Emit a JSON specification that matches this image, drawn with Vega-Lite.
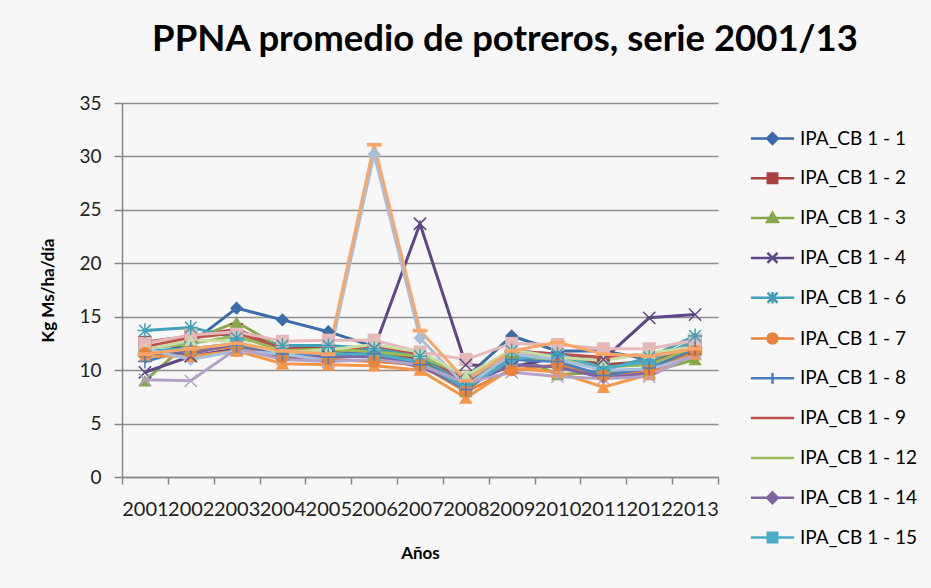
{
  "$schema": "https://vega.github.io/schema/vega-lite/v6.json",
  "width": 596,
  "height": 374,
  "autosize": "none",
  "padding": {"left": 122, "top": 103, "right": 213, "bottom": 111},
  "background": "#f7f7f7",
  "config": {"view": {"stroke": null}, "font": "Lato"},
  "title": {"text": "PPNA promedio de potreros, serie 2001/13", "font": "Lato", "fontSize": 36.5, "fontWeight": "bold", "color": "#000000", "anchor": "middle", "dx": 85, "offset": 7, "baseline": "alphabetic"},
  "data": {"values": [
    {"serie":"IPA_CB 1 - 1","anio":"2001","kg":11.3},{"serie":"IPA_CB 1 - 1","anio":"2002","kg":12.5},{"serie":"IPA_CB 1 - 1","anio":"2003","kg":15.8},{"serie":"IPA_CB 1 - 1","anio":"2004","kg":14.7},{"serie":"IPA_CB 1 - 1","anio":"2005","kg":13.6},{"serie":"IPA_CB 1 - 1","anio":"2006","kg":12.2},{"serie":"IPA_CB 1 - 1","anio":"2007","kg":11.2},{"serie":"IPA_CB 1 - 1","anio":"2008","kg":9.3},{"serie":"IPA_CB 1 - 1","anio":"2009","kg":13.2},{"serie":"IPA_CB 1 - 1","anio":"2010","kg":11.8},{"serie":"IPA_CB 1 - 1","anio":"2011","kg":11.8},{"serie":"IPA_CB 1 - 1","anio":"2012","kg":11.0},{"serie":"IPA_CB 1 - 1","anio":"2013","kg":12.6},
    {"serie":"IPA_CB 1 - 2","anio":"2001","kg":12.6},{"serie":"IPA_CB 1 - 2","anio":"2002","kg":13.2},{"serie":"IPA_CB 1 - 2","anio":"2003","kg":13.8},{"serie":"IPA_CB 1 - 2","anio":"2004","kg":12.2},{"serie":"IPA_CB 1 - 2","anio":"2005","kg":12.0},{"serie":"IPA_CB 1 - 2","anio":"2006","kg":11.8},{"serie":"IPA_CB 1 - 2","anio":"2007","kg":11.0},{"serie":"IPA_CB 1 - 2","anio":"2008","kg":8.8},{"serie":"IPA_CB 1 - 2","anio":"2009","kg":11.2},{"serie":"IPA_CB 1 - 2","anio":"2010","kg":11.5},{"serie":"IPA_CB 1 - 2","anio":"2011","kg":10.5},{"serie":"IPA_CB 1 - 2","anio":"2012","kg":10.8},{"serie":"IPA_CB 1 - 2","anio":"2013","kg":12.0},
    {"serie":"IPA_CB 1 - 3","anio":"2001","kg":9.0},{"serie":"IPA_CB 1 - 3","anio":"2002","kg":12.8},{"serie":"IPA_CB 1 - 3","anio":"2003","kg":14.5},{"serie":"IPA_CB 1 - 3","anio":"2004","kg":12.0},{"serie":"IPA_CB 1 - 3","anio":"2005","kg":11.8},{"serie":"IPA_CB 1 - 3","anio":"2006","kg":11.5},{"serie":"IPA_CB 1 - 3","anio":"2007","kg":10.8},{"serie":"IPA_CB 1 - 3","anio":"2008","kg":8.0},{"serie":"IPA_CB 1 - 3","anio":"2009","kg":11.5},{"serie":"IPA_CB 1 - 3","anio":"2010","kg":9.6},{"serie":"IPA_CB 1 - 3","anio":"2011","kg":9.8},{"serie":"IPA_CB 1 - 3","anio":"2012","kg":9.8},{"serie":"IPA_CB 1 - 3","anio":"2013","kg":11.0},
    {"serie":"IPA_CB 1 - 4","anio":"2001","kg":9.8},{"serie":"IPA_CB 1 - 4","anio":"2002","kg":11.3},{"serie":"IPA_CB 1 - 4","anio":"2003","kg":12.0},{"serie":"IPA_CB 1 - 4","anio":"2004","kg":11.5},{"serie":"IPA_CB 1 - 4","anio":"2005","kg":11.3},{"serie":"IPA_CB 1 - 4","anio":"2006","kg":12.0},{"serie":"IPA_CB 1 - 4","anio":"2007","kg":23.7},{"serie":"IPA_CB 1 - 4","anio":"2008","kg":10.5},{"serie":"IPA_CB 1 - 4","anio":"2009","kg":10.3},{"serie":"IPA_CB 1 - 4","anio":"2010","kg":11.2},{"serie":"IPA_CB 1 - 4","anio":"2011","kg":11.0},{"serie":"IPA_CB 1 - 4","anio":"2012","kg":14.9},{"serie":"IPA_CB 1 - 4","anio":"2013","kg":15.2},
    {"serie":"IPA_CB 1 - 6","anio":"2001","kg":13.7},{"serie":"IPA_CB 1 - 6","anio":"2002","kg":14.0},{"serie":"IPA_CB 1 - 6","anio":"2003","kg":13.0},{"serie":"IPA_CB 1 - 6","anio":"2004","kg":12.3},{"serie":"IPA_CB 1 - 6","anio":"2005","kg":12.3},{"serie":"IPA_CB 1 - 6","anio":"2006","kg":12.0},{"serie":"IPA_CB 1 - 6","anio":"2007","kg":11.3},{"serie":"IPA_CB 1 - 6","anio":"2008","kg":8.5},{"serie":"IPA_CB 1 - 6","anio":"2009","kg":11.8},{"serie":"IPA_CB 1 - 6","anio":"2010","kg":11.5},{"serie":"IPA_CB 1 - 6","anio":"2011","kg":10.0},{"serie":"IPA_CB 1 - 6","anio":"2012","kg":11.2},{"serie":"IPA_CB 1 - 6","anio":"2013","kg":13.2},
    {"serie":"IPA_CB 1 - 7","anio":"2001","kg":11.6},{"serie":"IPA_CB 1 - 7","anio":"2002","kg":11.8},{"serie":"IPA_CB 1 - 7","anio":"2003","kg":12.2},{"serie":"IPA_CB 1 - 7","anio":"2004","kg":11.2},{"serie":"IPA_CB 1 - 7","anio":"2005","kg":11.0},{"serie":"IPA_CB 1 - 7","anio":"2006","kg":10.8},{"serie":"IPA_CB 1 - 7","anio":"2007","kg":10.5},{"serie":"IPA_CB 1 - 7","anio":"2008","kg":8.0},{"serie":"IPA_CB 1 - 7","anio":"2009","kg":10.0},{"serie":"IPA_CB 1 - 7","anio":"2010","kg":10.5},{"serie":"IPA_CB 1 - 7","anio":"2011","kg":9.5},{"serie":"IPA_CB 1 - 7","anio":"2012","kg":10.0},{"serie":"IPA_CB 1 - 7","anio":"2013","kg":11.8},
    {"serie":"IPA_CB 1 - 8","anio":"2001","kg":10.8},{"serie":"IPA_CB 1 - 8","anio":"2002","kg":12.0},{"serie":"IPA_CB 1 - 8","anio":"2003","kg":12.3},{"serie":"IPA_CB 1 - 8","anio":"2004","kg":11.5},{"serie":"IPA_CB 1 - 8","anio":"2005","kg":11.2},{"serie":"IPA_CB 1 - 8","anio":"2006","kg":11.5},{"serie":"IPA_CB 1 - 8","anio":"2007","kg":10.5},{"serie":"IPA_CB 1 - 8","anio":"2008","kg":8.2},{"serie":"IPA_CB 1 - 8","anio":"2009","kg":11.0},{"serie":"IPA_CB 1 - 8","anio":"2010","kg":10.8},{"serie":"IPA_CB 1 - 8","anio":"2011","kg":9.5},{"serie":"IPA_CB 1 - 8","anio":"2012","kg":10.2},{"serie":"IPA_CB 1 - 8","anio":"2013","kg":12.0},
    {"serie":"IPA_CB 1 - 9","anio":"2001","kg":12.2},{"serie":"IPA_CB 1 - 9","anio":"2002","kg":13.0},{"serie":"IPA_CB 1 - 9","anio":"2003","kg":13.5},{"serie":"IPA_CB 1 - 9","anio":"2004","kg":12.0},{"serie":"IPA_CB 1 - 9","anio":"2005","kg":11.8},{"serie":"IPA_CB 1 - 9","anio":"2006","kg":12.3},{"serie":"IPA_CB 1 - 9","anio":"2007","kg":11.5},{"serie":"IPA_CB 1 - 9","anio":"2008","kg":9.0},{"serie":"IPA_CB 1 - 9","anio":"2009","kg":11.8},{"serie":"IPA_CB 1 - 9","anio":"2010","kg":11.5},{"serie":"IPA_CB 1 - 9","anio":"2011","kg":11.2},{"serie":"IPA_CB 1 - 9","anio":"2012","kg":11.5},{"serie":"IPA_CB 1 - 9","anio":"2013","kg":12.3},
    {"serie":"IPA_CB 1 - 12","anio":"2001","kg":12.0},{"serie":"IPA_CB 1 - 12","anio":"2002","kg":12.5},{"serie":"IPA_CB 1 - 12","anio":"2003","kg":13.2},{"serie":"IPA_CB 1 - 12","anio":"2004","kg":11.8},{"serie":"IPA_CB 1 - 12","anio":"2005","kg":12.0},{"serie":"IPA_CB 1 - 12","anio":"2006","kg":11.7},{"serie":"IPA_CB 1 - 12","anio":"2007","kg":11.3},{"serie":"IPA_CB 1 - 12","anio":"2008","kg":9.5},{"serie":"IPA_CB 1 - 12","anio":"2009","kg":11.3},{"serie":"IPA_CB 1 - 12","anio":"2010","kg":11.0},{"serie":"IPA_CB 1 - 12","anio":"2011","kg":10.3},{"serie":"IPA_CB 1 - 12","anio":"2012","kg":10.5},{"serie":"IPA_CB 1 - 12","anio":"2013","kg":12.2},
    {"serie":"IPA_CB 1 - 14","anio":"2001","kg":11.5},{"serie":"IPA_CB 1 - 14","anio":"2002","kg":11.5},{"serie":"IPA_CB 1 - 14","anio":"2003","kg":12.5},{"serie":"IPA_CB 1 - 14","anio":"2004","kg":11.2},{"serie":"IPA_CB 1 - 14","anio":"2005","kg":11.2},{"serie":"IPA_CB 1 - 14","anio":"2006","kg":11.3},{"serie":"IPA_CB 1 - 14","anio":"2007","kg":10.3},{"serie":"IPA_CB 1 - 14","anio":"2008","kg":8.5},{"serie":"IPA_CB 1 - 14","anio":"2009","kg":10.5},{"serie":"IPA_CB 1 - 14","anio":"2010","kg":10.3},{"serie":"IPA_CB 1 - 14","anio":"2011","kg":9.3},{"serie":"IPA_CB 1 - 14","anio":"2012","kg":9.7},{"serie":"IPA_CB 1 - 14","anio":"2013","kg":11.5},
    {"serie":"IPA_CB 1 - 15","anio":"2001","kg":11.8},{"serie":"IPA_CB 1 - 15","anio":"2002","kg":12.0},{"serie":"IPA_CB 1 - 15","anio":"2003","kg":12.5},{"serie":"IPA_CB 1 - 15","anio":"2004","kg":11.7},{"serie":"IPA_CB 1 - 15","anio":"2005","kg":11.5},{"serie":"IPA_CB 1 - 15","anio":"2006","kg":11.5},{"serie":"IPA_CB 1 - 15","anio":"2007","kg":10.8},{"serie":"IPA_CB 1 - 15","anio":"2008","kg":8.3},{"serie":"IPA_CB 1 - 15","anio":"2009","kg":11.0},{"serie":"IPA_CB 1 - 15","anio":"2010","kg":11.5},{"serie":"IPA_CB 1 - 15","anio":"2011","kg":10.2},{"serie":"IPA_CB 1 - 15","anio":"2012","kg":10.8},{"serie":"IPA_CB 1 - 15","anio":"2013","kg":12.8},
    {"serie":"IPA_CB 1 - 16","anio":"2001","kg":11.3},{"serie":"IPA_CB 1 - 16","anio":"2002","kg":11.3},{"serie":"IPA_CB 1 - 16","anio":"2003","kg":11.8},{"serie":"IPA_CB 1 - 16","anio":"2004","kg":10.6},{"serie":"IPA_CB 1 - 16","anio":"2005","kg":10.5},{"serie":"IPA_CB 1 - 16","anio":"2006","kg":10.4},{"serie":"IPA_CB 1 - 16","anio":"2007","kg":10.0},{"serie":"IPA_CB 1 - 16","anio":"2008","kg":7.4},{"serie":"IPA_CB 1 - 16","anio":"2009","kg":10.2},{"serie":"IPA_CB 1 - 16","anio":"2010","kg":9.8},{"serie":"IPA_CB 1 - 16","anio":"2011","kg":8.4},{"serie":"IPA_CB 1 - 16","anio":"2012","kg":9.6},{"serie":"IPA_CB 1 - 16","anio":"2013","kg":11.5},
    {"serie":"IPA_CB 1 - 17","anio":"2001","kg":12.0},{"serie":"IPA_CB 1 - 17","anio":"2002","kg":11.0},{"serie":"IPA_CB 1 - 17","anio":"2003","kg":11.8},{"serie":"IPA_CB 1 - 17","anio":"2004","kg":11.5},{"serie":"IPA_CB 1 - 17","anio":"2005","kg":10.9},{"serie":"IPA_CB 1 - 17","anio":"2006","kg":30.2},{"serie":"IPA_CB 1 - 17","anio":"2007","kg":13.0},{"serie":"IPA_CB 1 - 17","anio":"2008","kg":8.5},{"serie":"IPA_CB 1 - 17","anio":"2009","kg":11.5},{"serie":"IPA_CB 1 - 17","anio":"2010","kg":11.0},{"serie":"IPA_CB 1 - 17","anio":"2011","kg":10.0},{"serie":"IPA_CB 1 - 17","anio":"2012","kg":10.1},{"serie":"IPA_CB 1 - 17","anio":"2013","kg":11.3},
    {"serie":"IPA_CB 1 - 18","anio":"2001","kg":12.5},{"serie":"IPA_CB 1 - 18","anio":"2002","kg":13.3},{"serie":"IPA_CB 1 - 18","anio":"2003","kg":13.6},{"serie":"IPA_CB 1 - 18","anio":"2004","kg":12.7},{"serie":"IPA_CB 1 - 18","anio":"2005","kg":12.8},{"serie":"IPA_CB 1 - 18","anio":"2006","kg":12.8},{"serie":"IPA_CB 1 - 18","anio":"2007","kg":11.7},{"serie":"IPA_CB 1 - 18","anio":"2008","kg":11.0},{"serie":"IPA_CB 1 - 18","anio":"2009","kg":12.5},{"serie":"IPA_CB 1 - 18","anio":"2010","kg":12.4},{"serie":"IPA_CB 1 - 18","anio":"2011","kg":12.0},{"serie":"IPA_CB 1 - 18","anio":"2012","kg":12.0},{"serie":"IPA_CB 1 - 18","anio":"2013","kg":12.8},
    {"serie":"IPA_CB 1 - 19","anio":"2001","kg":11.9},{"serie":"IPA_CB 1 - 19","anio":"2002","kg":12.8},{"serie":"IPA_CB 1 - 19","anio":"2003","kg":12.7},{"serie":"IPA_CB 1 - 19","anio":"2004","kg":11.6},{"serie":"IPA_CB 1 - 19","anio":"2005","kg":11.9},{"serie":"IPA_CB 1 - 19","anio":"2006","kg":12.4},{"serie":"IPA_CB 1 - 19","anio":"2007","kg":11.7},{"serie":"IPA_CB 1 - 19","anio":"2008","kg":9.5},{"serie":"IPA_CB 1 - 19","anio":"2009","kg":11.9},{"serie":"IPA_CB 1 - 19","anio":"2010","kg":11.2},{"serie":"IPA_CB 1 - 19","anio":"2011","kg":10.9},{"serie":"IPA_CB 1 - 19","anio":"2012","kg":11.6},{"serie":"IPA_CB 1 - 19","anio":"2013","kg":12.2},
    {"serie":"IPA_CB 1 - 20","anio":"2001","kg":9.1},{"serie":"IPA_CB 1 - 20","anio":"2002","kg":9.0},{"serie":"IPA_CB 1 - 20","anio":"2003","kg":12.0},{"serie":"IPA_CB 1 - 20","anio":"2004","kg":11.0},{"serie":"IPA_CB 1 - 20","anio":"2005","kg":10.8},{"serie":"IPA_CB 1 - 20","anio":"2006","kg":11.0},{"serie":"IPA_CB 1 - 20","anio":"2007","kg":10.5},{"serie":"IPA_CB 1 - 20","anio":"2008","kg":8.8},{"serie":"IPA_CB 1 - 20","anio":"2009","kg":9.8},{"serie":"IPA_CB 1 - 20","anio":"2010","kg":9.4},{"serie":"IPA_CB 1 - 20","anio":"2011","kg":9.2},{"serie":"IPA_CB 1 - 20","anio":"2012","kg":9.4},{"serie":"IPA_CB 1 - 20","anio":"2013","kg":11.5},
    {"serie":"IPA_CB 1 - 21","anio":"2001","kg":11.5},{"serie":"IPA_CB 1 - 21","anio":"2002","kg":12.0},{"serie":"IPA_CB 1 - 21","anio":"2003","kg":12.5},{"serie":"IPA_CB 1 - 21","anio":"2004","kg":11.8},{"serie":"IPA_CB 1 - 21","anio":"2005","kg":11.5},{"serie":"IPA_CB 1 - 21","anio":"2006","kg":31.1},{"serie":"IPA_CB 1 - 21","anio":"2007","kg":13.7},{"serie":"IPA_CB 1 - 21","anio":"2008","kg":9.0},{"serie":"IPA_CB 1 - 21","anio":"2009","kg":11.8},{"serie":"IPA_CB 1 - 21","anio":"2010","kg":12.6},{"serie":"IPA_CB 1 - 21","anio":"2011","kg":11.5},{"serie":"IPA_CB 1 - 21","anio":"2012","kg":11.3},{"serie":"IPA_CB 1 - 21","anio":"2013","kg":12.0}
  ]},
  "encoding": {
    "x": {"field": "anio", "type": "ordinal", "scale": {"type": "band", "paddingInner": 0, "paddingOuter": 0},
      "axis": {"title": "Años", "titleFont": "Lato", "titleFontSize": 17, "titleFontWeight": "bold", "titleColor": "#000000", "titlePadding": 26,
        "labelAngle": 0, "labelFont": "Lato", "labelFontSize": 20, "labelColor": "#222222", "labelPadding": 15, "labelOverlap": false,
        "tickBand": "extent", "tickSize": 7, "tickColor": "#868686", "tickWidth": 1.5, "domainColor": "#868686", "domainWidth": 1.5, "grid": false}},
    "y": {"field": "kg", "type": "quantitative", "scale": {"domain": [0, 35], "nice": false},
      "axis": {"title": "Kg Ms/ha/día", "titleFont": "Lato", "titleFontSize": 17, "titleFontWeight": "bold", "titleColor": "#000000", "titlePadding": 21,
        "values": [0, 5, 10, 15, 20, 25, 30, 35], "labelFont": "Lato", "labelFontSize": 19, "labelColor": "#222222", "labelPadding": 13,
        "tickSize": 8, "tickColor": "#868686", "tickWidth": 1.5, "domainColor": "#868686", "domainWidth": 1.5,
        "grid": true, "gridColor": "#8e8e8e", "gridWidth": 1.5}},
    "color": {"field": "serie", "type": "nominal",
      "scale": {
        "domain": ["IPA_CB 1 - 1","IPA_CB 1 - 2","IPA_CB 1 - 3","IPA_CB 1 - 4","IPA_CB 1 - 6","IPA_CB 1 - 7","IPA_CB 1 - 8","IPA_CB 1 - 9","IPA_CB 1 - 12","IPA_CB 1 - 14","IPA_CB 1 - 15","IPA_CB 1 - 16","IPA_CB 1 - 17","IPA_CB 1 - 18","IPA_CB 1 - 19","IPA_CB 1 - 20","IPA_CB 1 - 21"],
        "range": ["#3B6BA8","#A8423F","#86A84A","#5E4787","#3FA0B8","#E8833A","#4A7EBB","#C0504D","#9BBB59","#8064A2","#4BACC6","#F79646","#A7BFDE","#E6B9B8","#C9DCA6","#B3A2C7","#F9A66B"]
      },
      "legend": {
        "values": ["IPA_CB 1 - 1","IPA_CB 1 - 2","IPA_CB 1 - 3","IPA_CB 1 - 4","IPA_CB 1 - 6","IPA_CB 1 - 7","IPA_CB 1 - 8","IPA_CB 1 - 9","IPA_CB 1 - 12","IPA_CB 1 - 14","IPA_CB 1 - 15"],
        "title": null, "orient": "none", "legendX": 631, "legendY": 16,
        "labelFont": "Lato", "labelFontSize": 19, "labelColor": "#000000", "labelOffset": 8,
        "symbolSize": 1300, "symbolStrokeWidth": 2.5, "rowPadding": 9.8,
        "encode": {"symbols": {"update": {
          "shape": {"signal": "['M-1.2,0H1.2M0,-0.3L0.3,0L0,0.3L-0.3,0Z','M-1.2,0H1.2M-0.26,-0.26H0.26V0.26H-0.26Z','M-1.2,0H1.2M0,-0.3L0.3,0.22L-0.3,0.22Z','M-1.2,0H1.2M-0.28,-0.28L0.28,0.28M-0.28,0.28L0.28,-0.28','M-1.2,0H1.2M0,-0.32V0.32M-0.28,-0.28L0.28,0.28M-0.28,0.28L0.28,-0.28','M-1.2,0H1.2M0.28,0L0.242,0.14L0.14,0.242L0,0.28L-0.14,0.242L-0.242,0.14L-0.28,0L-0.242,-0.14L-0.14,-0.242L0,-0.28L0.14,-0.242L0.242,-0.14Z','M-1.2,0H1.2M0,-0.3V0.3','M-1.2,0H1.2','M-1.2,0H1.2','M-1.2,0H1.2M0,-0.3L0.3,0L0,0.3L-0.3,0Z','M-1.2,0H1.2M-0.26,-0.26H0.26V0.26H-0.26Z'][indexof(['IPA_CB 1 - 1','IPA_CB 1 - 2','IPA_CB 1 - 3','IPA_CB 1 - 4','IPA_CB 1 - 6','IPA_CB 1 - 7','IPA_CB 1 - 8','IPA_CB 1 - 9','IPA_CB 1 - 12','IPA_CB 1 - 14','IPA_CB 1 - 15'], datum.value)]"},
          "fill": {"scale": "color", "field": "value"},
          "stroke": {"scale": "color", "field": "value"},
          "strokeWidth": {"value": 2.5},
          "opacity": {"value": 1}
        }}}
      }
    }
  },
  "layer": [
    {"mark": {"type": "line", "strokeWidth": 3}},
    {"transform": [{"filter": {"field": "serie", "oneOf": ["IPA_CB 1 - 1", "IPA_CB 1 - 14", "IPA_CB 1 - 17"]}}],
     "mark": {"type": "point", "shape": "diamond", "filled": true, "size": 175, "opacity": 1}},
    {"transform": [{"filter": {"field": "serie", "oneOf": ["IPA_CB 1 - 2", "IPA_CB 1 - 15", "IPA_CB 1 - 18"]}}],
     "mark": {"type": "point", "shape": "square", "filled": true, "size": 170, "opacity": 1}},
    {"transform": [{"filter": {"field": "serie", "oneOf": ["IPA_CB 1 - 3", "IPA_CB 1 - 16", "IPA_CB 1 - 19"]}}],
     "mark": {"type": "point", "shape": "triangle-up", "filled": true, "size": 175, "opacity": 1}},
    {"transform": [{"filter": {"field": "serie", "oneOf": ["IPA_CB 1 - 4", "IPA_CB 1 - 20"]}}],
     "mark": {"type": "point", "shape": "M-1,-1L1,1M-1,1L1,-1", "filled": false, "strokeWidth": 1.5, "size": 150, "opacity": 1}},
    {"transform": [{"filter": {"field": "serie", "oneOf": ["IPA_CB 1 - 6"]}}],
     "mark": {"type": "point", "shape": "M-1,-1L1,1M-1,1L1,-1M0,-1.3V1.3M-1.3,0H1.3", "filled": false, "strokeWidth": 1.5, "size": 130, "opacity": 1}},
    {"transform": [{"filter": {"field": "serie", "oneOf": ["IPA_CB 1 - 7"]}}],
     "mark": {"type": "point", "shape": "circle", "filled": true, "size": 150, "opacity": 1}},
    {"transform": [{"filter": {"field": "serie", "oneOf": ["IPA_CB 1 - 8"]}}],
     "mark": {"type": "point", "shape": "M-1.2,0H1.2M0,-1.2V1.2", "filled": false, "strokeWidth": 1.5, "size": 130, "opacity": 1}},
    {"transform": [{"filter": {"field": "serie", "oneOf": ["IPA_CB 1 - 21"]}}],
     "mark": {"type": "point", "shape": "M-1.2,-0.3H1.2V0.3H-1.2Z", "filled": true, "size": 150, "opacity": 1}}
  ]
}
